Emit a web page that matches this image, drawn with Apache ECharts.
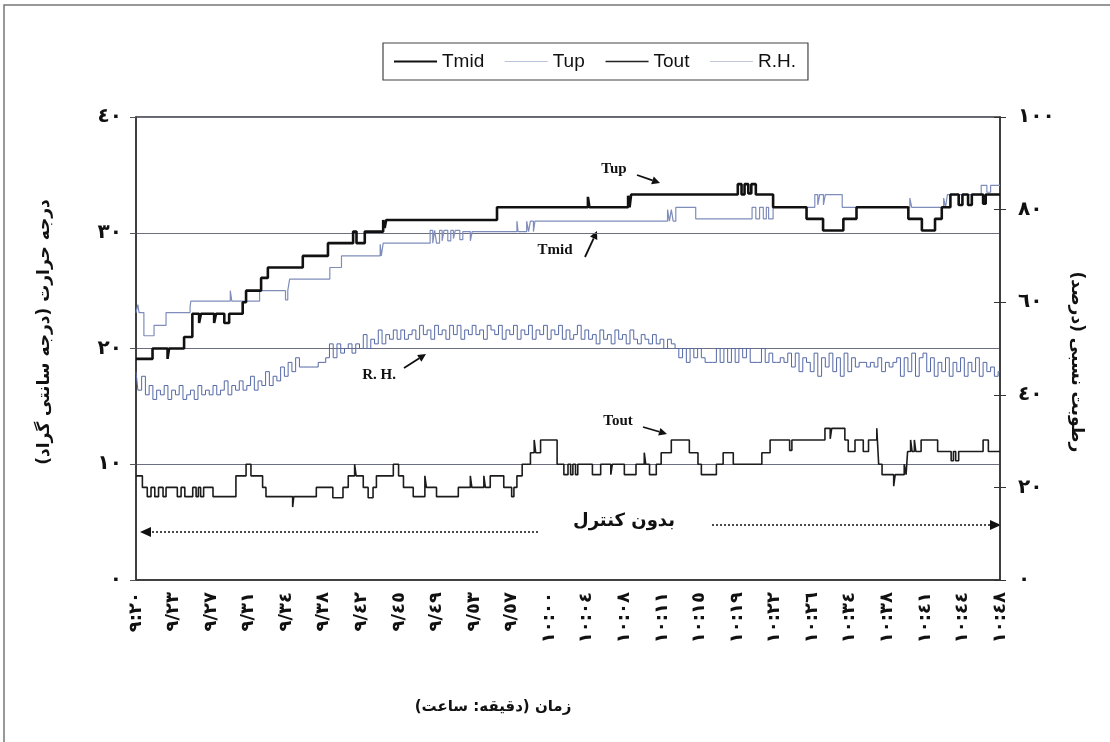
<!DOCTYPE html>
<html>
<head>
<meta charset="utf-8">
<script src="https://cdn.jsdelivr.net/npm/echarts@6/dist/echarts.min.js"></script>
<style>
html, body { margin: 0; padding: 0; background: #fff; }
#chart { width: 1110px; height: 742px; }
</style>
</head>
<body>
<div id="chart"></div>
<script>
// x unit = one tick label step (24 labels, 0..23)
var tickLabels = ['٩:٢٠', '٩/٢٣', '٩/٢٧', '٩/٣١', '٩/٣٤', '٩/٣٨', '٩/٤٢', '٩/٤٥', '٩/٤٩', '٩/٥٣', '٩/٥٧',
	'١٠:٠٠', '١٠:٠٤', '١٠:٠٨', '١٠:١١', '١٠:١٥', '١٠:١٩', '١٠:٢٢', '١٠:٢٦', '١٠:٣٤', '١٠:٣٨', '١٠:٤١', '١٠:٤٤', '١٠:٤٨'];

// step series: [x, value] at each change
var tmidSteps = [[0, 19.1], [0.44, 20.0], [0.84, 19.1], [0.88, 20.0], [1.28, 21.0], [1.5, 23.0], [1.68, 22.2], [1.73, 23.0],
	[2.08, 22.2], [2.13, 23.0], [2.35, 22.2], [2.48, 23.0], [2.84, 24.0], [2.93, 25.0], [3.33, 26.1], [3.51, 27.0],
	[4.44, 28.0], [5.11, 29.1], [5.78, 30.1], [5.87, 29.1], [6.09, 30.1], [6.58, 31.1], [6.62, 30.4], [6.66, 31.1],
	[9.61, 32.2], [12.03, 33.1], [12.07, 32.2], [13.1, 33.2], [13.14, 32.2], [13.18, 33.3], [16.02, 34.2], [16.12, 33.3],
	[16.2, 34.2], [16.3, 33.4], [16.38, 34.2], [16.5, 33.3], [16.96, 32.2], [17.85, 31.2], [18.29, 30.2], [18.83, 31.2],
	[19.18, 32.2], [20.56, 31.2], [20.92, 30.2], [21.27, 31.2], [21.45, 32.2], [21.68, 33.3], [21.9, 32.4], [22.0, 33.3],
	[22.15, 32.4], [22.25, 33.3], [22.55, 32.5], [22.62, 33.3], [23, 33.3]];

var tupSteps = [[0, 23.1], [0.05, 23.8], [0.08, 23.1], [0.21, 21.1], [0.48, 22.0], [0.8, 23.1], [1.44, 23.6], [1.46, 24.1],
	[2.51, 25.0], [2.55, 24.1], [3.29, 25.0], [3.98, 24.2], [4.04, 25.0], [4.09, 26.0], [5.16, 27.0], [5.47, 28.0],
	[6.5, 29.0], [6.53, 28.0], [6.58, 29.1], [7.83, 30.2], [7.9, 29.1], [7.95, 30.2], [8.0, 29.1], [8.08, 30.2],
	[8.15, 29.3], [8.2, 30.2], [8.3, 29.3], [8.38, 30.2], [8.45, 29.5], [8.5, 30.2], [8.62, 29.4], [8.7, 30.1],
	[8.9, 29.3], [8.95, 30.1], [10.14, 31.0], [10.17, 30.1], [10.4, 31.0], [10.45, 30.1], [10.5, 31.0], [10.58, 30.1],
	[10.62, 31.0], [14.15, 32.0], [14.2, 31.0], [14.25, 32.0], [14.3, 31.0], [14.37, 32.2], [14.9, 31.2], [16.4, 32.2],
	[16.5, 31.2], [16.6, 32.2], [16.7, 31.2], [16.78, 32.2], [16.84, 31.2], [16.96, 32.2], [18.07, 33.3], [18.15, 32.4],
	[18.2, 33.3], [18.3, 32.4], [18.35, 33.3], [18.8, 32.2], [20.6, 33.0], [20.65, 32.2], [21.5, 33.0], [21.55, 32.2],
	[21.6, 33.3], [22.5, 34.1], [22.65, 33.5], [22.75, 34.1], [23, 34.1]];

var toutSteps = [[0, 9.0], [0.17, 8.0], [0.3, 7.2], [0.4, 8.0], [0.5, 7.2], [0.6, 8.0], [0.72, 7.2], [0.8, 8.0],
	[1.1, 7.2], [1.2, 8.0], [1.3, 7.2], [1.51, 8.0], [1.6, 7.2], [1.66, 8.0], [1.72, 7.2], [1.8, 8.0], [2.05, 7.2],
	[2.66, 9.0], [2.93, 10.0], [3.06, 9.0], [3.37, 8.0], [3.46, 7.2], [4.17, 6.3], [4.2, 7.2], [4.8, 8.0], [5.24, 7.1],
	[5.51, 8.0], [5.65, 9.0], [5.82, 10.0], [5.86, 9.0], [6.05, 8.0], [6.18, 7.1], [6.31, 8.0], [6.4, 9.0],
	[6.85, 10.0], [6.99, 9.0], [7.12, 8.0], [7.38, 7.2], [7.69, 9.0], [7.73, 8.0], [8.0, 7.2], [8.58, 8.0], [8.9, 9.0],
	[8.94, 8.0], [9.26, 9.0], [9.3, 8.0], [9.43, 9.0], [9.79, 8.0], [10.0, 7.2], [10.06, 8.0], [10.14, 9.0], [10.28, 10.0],
	[10.5, 11.0], [10.6, 12.1], [10.64, 11.0], [10.77, 12.1], [11.21, 10.0], [11.39, 9.1], [11.5, 10.0], [11.57, 9.1],
	[11.63, 10.0], [11.7, 9.1], [11.76, 10.0], [12.15, 9.1], [12.37, 10.0], [12.64, 9.1], [12.68, 10.0], [13.0, 9.1],
	[13.31, 10.0], [13.53, 11.0], [13.57, 10.0], [13.67, 9.1], [13.85, 10.0], [13.98, 11.0], [14.25, 12.1], [14.73, 11.0],
	[14.96, 10.0], [15.05, 9.1], [15.45, 10.0], [15.63, 11.0], [15.9, 10.0], [16.66, 11.0], [16.88, 12.1], [17.4, 11.2],
	[17.46, 12.1], [18.34, 13.1], [18.48, 12.2], [18.52, 13.1], [18.87, 12.1], [18.96, 11.1], [19.14, 12.1], [19.36, 11.1],
	[19.5, 12.1], [19.72, 13.1], [19.77, 10.0], [19.86, 9.1], [20.17, 8.1], [20.21, 9.1], [20.45, 10.0], [20.5, 9.1],
	[20.54, 11.1], [20.62, 12.1], [20.66, 11.1], [20.72, 12.1], [20.76, 11.1], [20.9, 12.1], [21.34, 11.1], [21.7, 10.3],
	[21.76, 11.1], [21.82, 10.3], [21.9, 11.1], [22.55, 12.1], [22.69, 11.1], [23, 11.1]];

// relative humidity, one reading every 0.1 label step
var rhValues = [
	45, 41, 44, 40, 42, 39, 41, 40, 42, 39,
	41, 40, 42, 39, 40, 41, 39, 42, 40, 41,
	40, 42, 40, 41, 43, 40, 42, 41, 43, 41,
	42, 44, 41, 43, 42, 45, 42, 44, 43, 46,
	44, 47, 45, 48, 46, 46, 46, 46, 46, 47,
	47, 48, 51, 48, 51, 49, 50, 51, 49, 51,
	50, 53, 50, 52, 51, 54, 51, 53, 52, 54,
	52, 54, 52, 53, 54, 52, 55, 53, 54, 52,
	55, 53, 54, 52, 55, 53, 55, 52, 54, 53,
	55, 53, 54, 52, 55, 54, 53, 55, 52, 54,
	53, 55, 52, 54, 53, 55, 52, 54, 53, 55,
	52, 54, 53, 55, 52, 54, 52, 53, 55, 52,
	54, 52, 53, 51, 54, 52, 53, 51, 54, 52,
	53, 51, 54, 52, 51, 53, 52, 51, 53, 51,
	52, 50, 52, 51, 50, 48, 50, 47, 50, 48,
	50, 48, 47, 47, 47, 50, 47, 50, 47, 50,
	47, 50, 48, 50, 47, 47, 47, 50, 47, 49,
	47, 47, 48, 47, 49, 46, 49, 45, 48, 47,
	45, 49, 44, 48, 46, 49, 45, 48, 44, 49,
	45, 48, 46, 47, 47, 46, 47, 46, 48, 45,
	47, 46, 47, 48, 44, 48, 45, 49, 44, 48,
	49, 45, 48, 44, 47, 45, 48, 44, 47, 45,
	48, 44, 47, 45, 48, 44, 47, 45, 46, 44,
	45];

var arDigits = '٠١٢٣٤٥٦٧٨٩';
function toArabic(v) {
	return String(v).replace(/\d/g, function (d) { return arDigits[d]; });
}

/**
 * arrow made of a line and a filled head
 */
function arrow(x1, y1, x2, y2, dashed) {
	var a = Math.atan2(y2 - y1, x2 - x1), h = dashed ? 11 : 8, w = dashed ? 5 : 4;
	var bx = x2 - h * Math.cos(a), by = y2 - h * Math.sin(a);
	return [{
		type: 'line',
		shape: { x1: x1, y1: y1, x2: bx, y2: by },
		style: { stroke: '#111', lineWidth: dashed ? 1.6 : 1.8, lineDash: dashed ? [2, 2] : null }
	}, {
		type: 'polygon',
		shape: { points: [[x2, y2], [bx + w * Math.sin(a), by - w * Math.cos(a)], [bx - w * Math.sin(a), by + w * Math.cos(a)]] },
		style: { fill: '#111' }
	}];
}

var boldFont = 'DejaVu Sans';
var myChart = echarts.init(document.getElementById('chart'));

var graphics = [
	{ type: 'polyline', shape: { points: [[4, 742], [4, 5], [1110, 5]] }, style: { stroke: '#777', lineWidth: 1.5, fill: null } },
	{ type: 'text', x: 45, y: 332, rotation: Math.PI / 2,
	  style: { text: 'درجه حرارت (درجه سانتی گراد)', font: 'bold 17px ' + boldFont, fill: '#111', textAlign: 'center', textVerticalAlign: 'middle' } },
	{ type: 'text', x: 1076, y: 362, rotation: -Math.PI / 2,
	  style: { text: 'رطوبت نسبی (درصد)', font: 'bold 17px ' + boldFont, fill: '#111', textAlign: 'center', textVerticalAlign: 'middle' } },
	{ type: 'text', x: 493, y: 707,
	  style: { text: 'زمان (دقیقه: ساعت)', font: 'bold 15px ' + boldFont, fill: '#111', textAlign: 'center', textVerticalAlign: 'middle' } },
	{ type: 'text', x: 624, y: 521,
	  style: { text: 'بدون کنترل', font: 'bold 18px ' + boldFont, fill: '#111', textAlign: 'center', textVerticalAlign: 'middle' } },
	{ type: 'text', x: 614, y: 169, style: { text: 'Tup', font: 'bold 15px "Liberation Serif"', fill: '#111', textAlign: 'center', textVerticalAlign: 'middle' } },
	{ type: 'text', x: 555, y: 250, style: { text: 'Tmid', font: 'bold 15px "Liberation Serif"', fill: '#111', textAlign: 'center', textVerticalAlign: 'middle' } },
	{ type: 'text', x: 379, y: 375, style: { text: 'R. H.', font: 'bold 15px "Liberation Serif"', fill: '#111', textAlign: 'center', textVerticalAlign: 'middle' } },
	{ type: 'text', x: 618, y: 421, style: { text: 'Tout', font: 'bold 15px "Liberation Serif"', fill: '#111', textAlign: 'center', textVerticalAlign: 'middle' } }
];
graphics = graphics
	.concat(arrow(637, 175, 660, 183))
	.concat(arrow(585, 257, 597, 231))
	.concat(arrow(404, 368, 426, 354))
	.concat(arrow(643, 427, 667, 434))
	.concat(arrow(538, 532, 140, 532, true))
	.concat(arrow(712, 525, 1001, 525, true));

var option = {
	animation: false,
	backgroundColor: '#fff',
	legend: {
		left: 383,
		top: 43,
		itemWidth: 43,
		itemHeight: 12,
		itemGap: 20,
		padding: [9, 12, 9, 10],
		borderColor: '#444',
		borderWidth: 1.2,
		itemStyle: { opacity: 0 },
		textStyle: { fontFamily: 'Liberation Sans', fontSize: 19, color: '#111' },
		data: [
			{ name: 'Tmid', lineStyle: { width: 2, color: '#111' } },
			{ name: 'Tup', lineStyle: { width: 1, color: '#b9c2da' } },
			{ name: 'Tout', lineStyle: { width: 1.6, color: '#222' } },
			{ name: 'R.H.', lineStyle: { width: 1, color: '#c2c8da' } }
		]
	},
	grid: {
		left: 136, top: 117, width: 864, height: 463,
		show: true, borderColor: '#333', borderWidth: 1.5
	},
	xAxis: {
		type: 'value', min: 0, max: 23, interval: 1,
		axisLine: { lineStyle: { color: '#333', width: 1.5 } },
		axisTick: { show: false },
		splitLine: { show: false },
		axisLabel: {
			rotate: 90, margin: 12, fontSize: 18, fontWeight: 'bold', fontFamily: boldFont, color: '#111',
			formatter: function (v) { return tickLabels[v] || ''; }
		}
	},
	yAxis: [{
		type: 'value', min: 0, max: 40, interval: 10, position: 'left',
		axisLine: { show: true, lineStyle: { color: '#333', width: 1.5 } },
		axisTick: { show: true, length: 6, lineStyle: { color: '#555' } },
		axisLabel: { margin: 14, fontSize: 20, fontWeight: 'bold', fontFamily: boldFont, color: '#111', formatter: toArabic },
		splitLine: { show: true, lineStyle: { color: '#6c6f80', width: 1 } }
	}, {
		type: 'value', min: 0, max: 100, interval: 20, position: 'right',
		axisLine: { show: true, lineStyle: { color: '#333', width: 1.5 } },
		axisTick: { show: true, length: 6, lineStyle: { color: '#333' } },
		axisLabel: { margin: 18, fontSize: 20, fontWeight: 'bold', fontFamily: boldFont, color: '#111', formatter: toArabic },
		splitLine: { show: false }
	}, {
		type: 'value', min: 0, max: 100, interval: 20, position: 'right',
		axisLine: { show: false },
		axisTick: { show: true, inside: true, length: 6, lineStyle: { color: '#333' } },
		axisLabel: { show: false },
		splitLine: { show: false }
	}],
	graphic: graphics,
	series: [{
		name: 'R.H.', type: 'line', yAxisIndex: 1, symbol: 'none', step: 'middle', z: 2,
		color: '#5468a6',
		lineStyle: { width: 1, color: '#5468a6' },
		data: rhValues.map(function (v, i) { return [i / 10, v]; })
	}, {
		name: 'Tout', type: 'line', symbol: 'none', step: 'end', z: 3,
		color: '#1c1c1c',
		lineStyle: { width: 1.6, color: '#1c1c1c' },
		data: toutSteps
	}, {
		name: 'Tup', type: 'line', symbol: 'none', step: 'end', z: 4,
		color: '#7f8dbb',
		lineStyle: { width: 1.2, color: '#7f8dbb' },
		data: tupSteps
	}, {
		name: 'Tmid', type: 'line', symbol: 'none', step: 'end', z: 5,
		color: '#111',
		lineStyle: { width: 2.6, color: '#111' },
		data: tmidSteps
	}]
};

myChart.setOption(option);
</script>
</body>
</html>
